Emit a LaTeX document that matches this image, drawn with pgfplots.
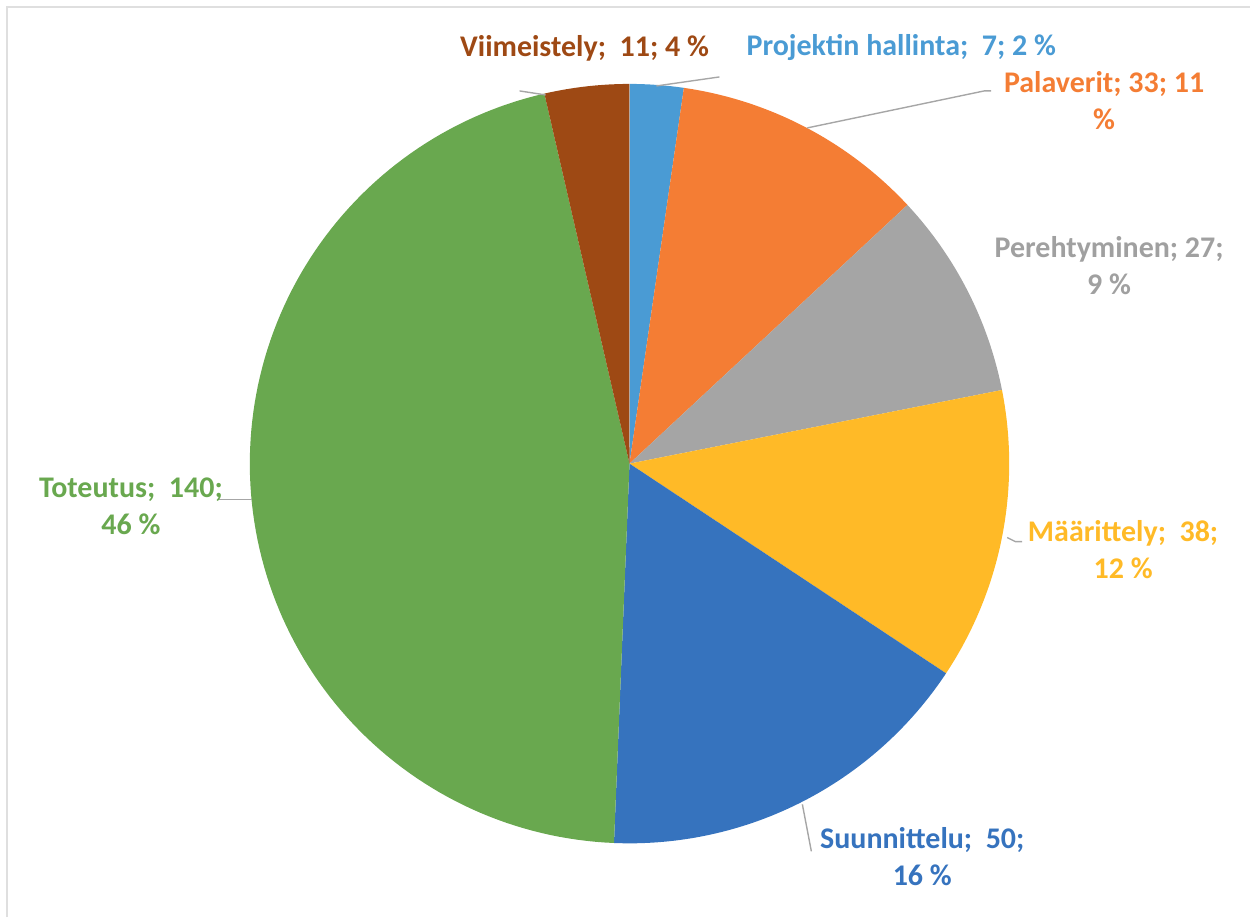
\documentclass[border=0pt]{standalone}
\usepackage{pgfplots}
\pgfplotsset{compat=1.18}
\usepackage{fontspec}
\setmainfont{Carlito}
\definecolor{cPH}{HTML}{4A9BD4}
\definecolor{cPA}{HTML}{F47D34}
\definecolor{cPE}{HTML}{A5A5A5}
\definecolor{cMA}{HTML}{FFBA27}
\definecolor{cSU}{HTML}{3673BE}
\definecolor{cTO}{HTML}{69A84F}
\definecolor{cVI}{HTML}{9E4914}
\definecolor{cPElab}{HTML}{A0A0A0}
\definecolor{leader}{HTML}{A6A6A6}
\tikzset{lab/.style={font=\bfseries\fontsize{15pt}{18.5pt}\selectfont, align=center, inner sep=0pt}}
\begin{document}
\begin{tikzpicture}
% data: hours per phase
\def\vPH{7}\def\vPA{33}\def\vPE{27}\def\vMA{38}\def\vSU{50}\def\vTO{140}\def\vVI{11}
\pgfmathsetmacro\tot{\vPH+\vPA+\vPE+\vMA+\vSU+\vTO+\vVI}
\pgfmathsetmacro\aA{90}
\pgfmathsetmacro\aB{\aA-\vPH/\tot*360}
\pgfmathsetmacro\aC{\aB-\vPA/\tot*360}
\pgfmathsetmacro\aD{\aC-\vPE/\tot*360}
\pgfmathsetmacro\aE{\aD-\vMA/\tot*360}
\pgfmathsetmacro\aF{\aE-\vSU/\tot*360}
\pgfmathsetmacro\aG{\aF-\vTO/\tot*360}
\pgfmathsetmacro\aH{\aG-\vVI/\tot*360}
\begin{axis}[
  width=625.5pt, height=459pt, scale only axis,
  xmin=0, xmax=1251, ymin=0, ymax=918, y dir=reverse,
  hide axis, clip=false,
  samples=120, variable=\t,
]
\addplot[draw=none] coordinates {(0,0) (1251,918)};
\addplot[gray!25, line width=1pt] coordinates {(7,918) (7,7) (1251,7)};
% slices
\addplot[fill=cPH, draw=none, domain=\aB:\aA] ({630+380*cos(t)},{464-380*sin(t)}) -- (axis cs:630,464) -- cycle;
\addplot[fill=cPA, draw=none, domain=\aC:\aB] ({630+380*cos(t)},{464-380*sin(t)}) -- (axis cs:630,464) -- cycle;
\addplot[fill=cPE, draw=none, domain=\aD:\aC] ({630+380*cos(t)},{464-380*sin(t)}) -- (axis cs:630,464) -- cycle;
\addplot[fill=cMA, draw=none, domain=\aE:\aD] ({630+380*cos(t)},{464-380*sin(t)}) -- (axis cs:630,464) -- cycle;
\addplot[fill=cSU, draw=none, domain=\aF:\aE] ({630+380*cos(t)},{464-380*sin(t)}) -- (axis cs:630,464) -- cycle;
\addplot[fill=cTO, draw=none, domain=\aG:\aF] ({630+380*cos(t)},{464-380*sin(t)}) -- (axis cs:630,464) -- cycle;
\addplot[fill=cVI, draw=none, domain=\aH:\aG] ({630+380*cos(t)},{464-380*sin(t)}) -- (axis cs:630,464) -- cycle;
% leader lines
\addplot[leader, line width=0.7pt] coordinates {(520,91) (546,95)};
\addplot[leader, line width=0.7pt] coordinates {(657,86) (720,77)};
\addplot[leader, line width=0.7pt] coordinates {(808,128) (985,91) (992,91)};
\addplot[leader, line width=0.7pt] coordinates {(1008,538) (1016,542) (1023,542)};
\addplot[leader, line width=0.7pt] coordinates {(803,805) (812,852)};
\addplot[leader, line width=0.7pt] coordinates {(218,500) (252,500)};
% labels
\node[lab, text=cVI] at (axis cs:585,48) {Viimeistely;\ \ 11; 4 \%};
\node[lab, text=cPH] at (axis cs:902,48) {Projektin hallinta;\ \ 7; 2 \%};
\node[lab, text=cPA] at (axis cs:1105,101) {Palaverit; 33; 11\\\%};
\node[lab, text=cPElab] at (axis cs:1110,266) {Perehtyminen; 27;\\9 \%};
\node[lab, text=cMA] at (axis cs:1124,550) {Määrittely;\ \ 38;\\12 \%};
\node[lab, text=cSU] at (axis cs:923,857) {Suunnittelu;\ \ 50;\\16 \%};
\node[lab, text=cTO] at (axis cs:131,507) {Toteutus;\ \ 140;\\46 \%};
\end{axis}
\end{tikzpicture}
\end{document}
